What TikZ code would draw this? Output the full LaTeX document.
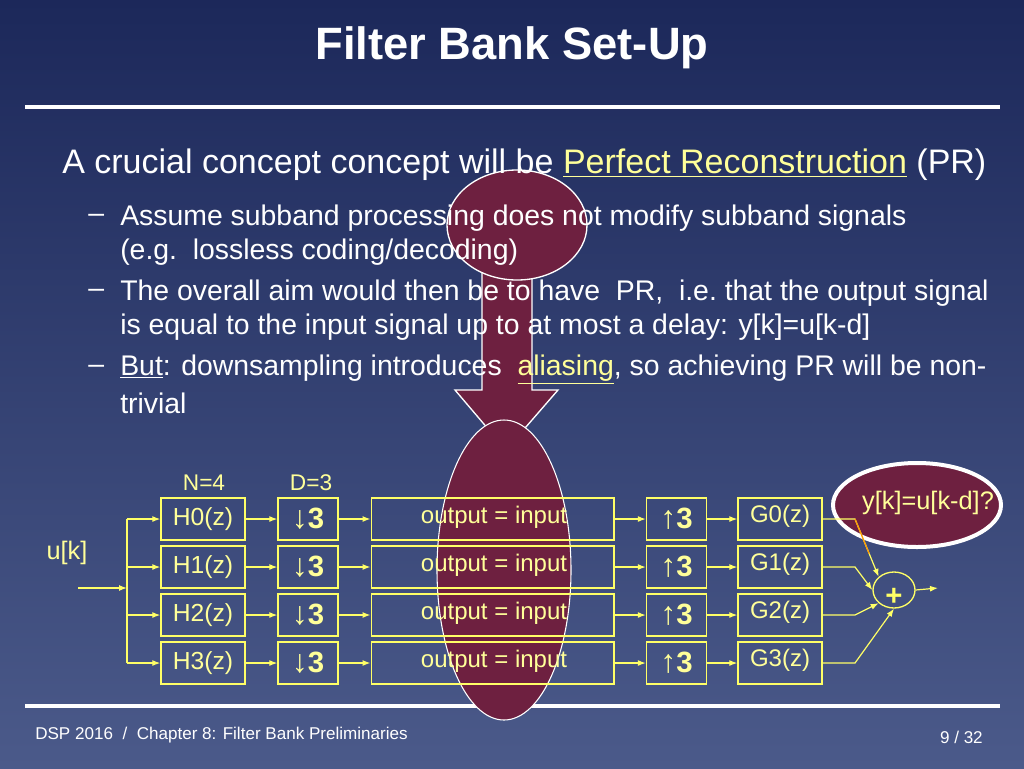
\documentclass[tikz,border=0pt]{standalone}
\usepackage{fontspec}
\setmainfont{Liberation Sans}
\usetikzlibrary{arrows.meta,shapes.geometric,calc}
\definecolor{ylw}{HTML}{FFFF66}
\definecolor{ytx}{HTML}{FFFF99}
\definecolor{maroon}{HTML}{6E2040}
\begin{document}
\begin{tikzpicture}[x=0.75pt,y=-0.75pt,
  box/.style={draw=ylw,line width=1pt,minimum width=63pt,minimum height=31.5pt,inner sep=0pt,text=ytx,font=\fontsize{18.5}{18.5}\selectfont},
  sbox/.style={box,minimum width=45pt},
  wbox/.style={box,minimum width=182pt},
  ar/.style={draw=ylw,line width=0.9pt,-{Latex[length=6pt,width=4.5pt]}},
  ln/.style={draw=ylw,line width=0.9pt},
  lbl/.style={text=ytx,font=\fontsize{17}{17}\selectfont,inner sep=0pt},
  btxt/.style={text=white,anchor=west,inner sep=0pt,font=\fontsize{21.3}{21.3}\selectfont}]
\shade[top color={rgb,255:red,28;green,40;blue,90}, bottom color={rgb,255:red,75;green,90;blue,138}] (0,0) rectangle (1024,768);
\useasboundingbox (0,0) rectangle (1024,768);
% top ellipse + arrow (behind text)
\draw[white,fill=maroon,line width=1pt] (482,272) -- (482,390) -- (455,390) -- (506,450) -- (558,390) -- (532,390) -- (532,272);
\draw[white,fill=maroon,line width=1pt] (517,225) ellipse [x radius=70,y radius=55];
\node[text=white,font=\fontsize{34}{34}\selectfont\bfseries] (title) at (512,48) {Filter Bank Set-Up};
\draw[white,line width=3pt] (25,107) -- (1000,107);
\draw[white,line width=3pt] (25,706) -- (1000,706);
\node[btxt,font=\fontsize{25.5}{25.5}\selectfont] (l0) at (62,165) {A crucial concept concept will be \textcolor{ytx}{\underline{Perfect Reconstruction}} (PR)};
\node[btxt] (d1) at (88,218) {–};
\node[btxt] (l1) at (120,218) {Assume subband processing does not modify subband signals};
\node[btxt] (l2) at (120,252) {(e.g.\ \ lossless coding/decoding)};
\node[btxt] (d2) at (88,293) {–};
\node[btxt] (l3) at (120,293) {The overall aim would then be to have\ \ PR,\ \ i.e.\ that the output signal};
\node[btxt] (l4) at (120,327) {is equal to the input signal up to at most a delay: y[k]=u[k-d]};
\node[btxt] (d3) at (88,369) {–};
\node[btxt] (l5) at (120,369) {\underline{But}: downsampling introduces\ \ \textcolor{ytx}{\underline{aliasing}}, so achieving PR will be non-};
\node[btxt] (l6) at (120,403) {trivial};
% big ellipse
\draw[white,fill=maroon,line width=0.8pt] (504,570) ellipse [x radius=67,y radius=150];
% small ellipse
\draw[white,fill=maroon,line width=3pt] (917,505) ellipse [x radius=84,y radius=42];
\node[text=ytx,font=\fontsize{19}{19}\selectfont,inner sep=0pt] (yk) at (928,503) {y[k]=u[k-d]?};
\node[lbl,font=\fontsize{19}{19}\selectfont] (uk) at (67,553) {u[k]};
\node[lbl] (N) at (204,483) {N=4};
\node[lbl] (D) at (311,483) {D=3};
\coordinate (in) at (78,588);
\coordinate (sp) at (127,588);
\draw[ar] (in) -- (sp);
\draw[ln] (127,519) -- (127,663);
\foreach \i/\y in {0/519,1/567,2/615,3/663}{
  \node[box] (H\i) at (203,\y) {H\i(z)};
  \node[sbox,font=\fontsize{22}{22}\selectfont\bfseries] (D\i) at (308,\y) {{\mdseries\fontsize{24}{24}\selectfont↓}3};
  \node[wbox] (O\i) at (492.5,\y) {};
  \node[lbl,font=\fontsize{18}{18}\selectfont] (OT\i) at (494,\y-2) {output = input};
  \node[sbox,font=\fontsize{22}{22}\selectfont\bfseries] (U\i) at (676.5,\y) {{\mdseries\fontsize{24}{24}\selectfont↑}3};
  \node[box] (G\i) at (780,\y) {};
  \node[lbl,font=\fontsize{18}{18}\selectfont] (GT\i) at (780,\y-3) {G\i(z)};
  \coordinate (b\i) at (127,\y);
  \draw[ar] (b\i) -- (H\i);
  \draw[ar] (H\i) -- (D\i);
  \draw[ar] (D\i) -- (O\i);
  \draw[ar] (O\i) -- (U\i);
  \draw[ar] (U\i) -- (G\i);
}
\node[draw=ylw,line width=1pt,ellipse,minimum width=31.5pt,minimum height=27pt,inner sep=0pt] (P) at (894,590) {};
\node[text=ylw,font=\fontsize{22}{22}\selectfont\bfseries,inner sep=0pt] (plus) at (894,597) {+};
\coordinate (o1) at (938,588);
\draw[ar] (P.east) -- (o1);
\coordinate (k0) at (855,519);
\coordinate (k1) at (855,567);
\coordinate (k2) at (855,615);
\coordinate (k3) at (855,663);
\draw[ar] (G0.east) -- (k0) -- (P.north west);
\draw[ln,draw=orange!80!yellow] (k0) -- ($(k0)!0.6!(P.north west)$);
\draw[ar] (G1.east) -- (k1) -- (P.west);
\draw[ar] (G2.east) -- (k2) -- (P.south west);
\draw[ar] (G3.east) -- (k3) -- (P.south);
\node[text=white,anchor=west,font=\fontsize{12.8}{12.8}\selectfont,inner sep=0pt] (f1) at (35,735) {DSP 2016\ \ /\ \ Chapter 8: Filter Bank Preliminaries};
\node[text=white,anchor=east,font=\fontsize{12.8}{12.8}\selectfont,inner sep=0pt] (f2) at (983,737) {9 / 32};
\end{tikzpicture}
\end{document}
